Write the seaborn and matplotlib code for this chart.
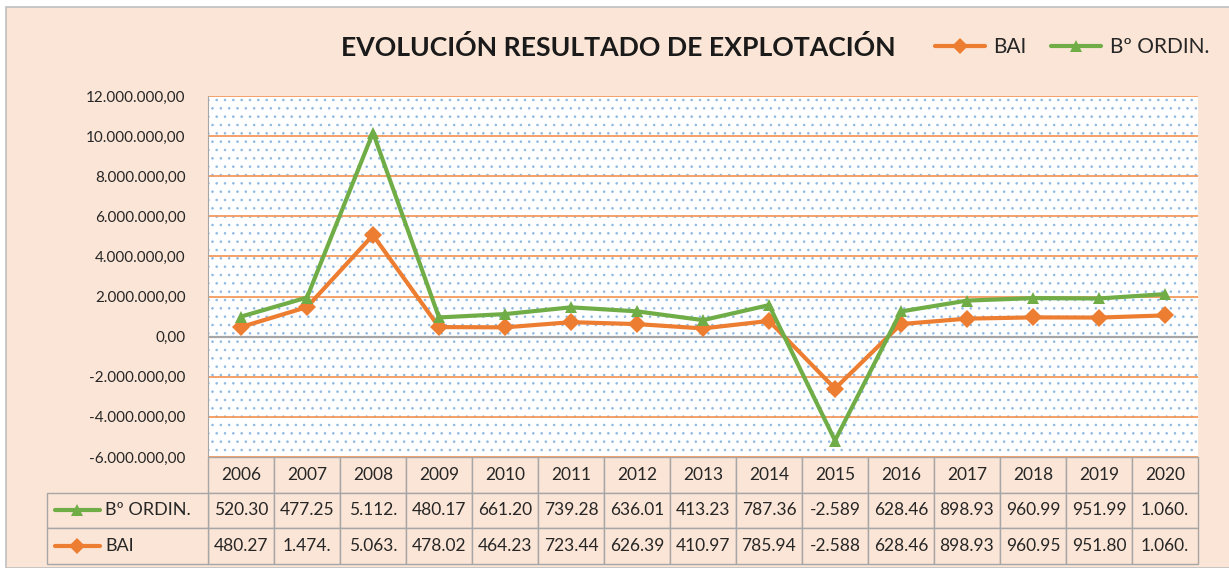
import matplotlib
matplotlib.use('Agg')
import matplotlib.pyplot as plt
from matplotlib.patches import Rectangle
from matplotlib.lines import Line2D
from matplotlib.ticker import FuncFormatter
import seaborn as sns
import pandas as pd

years = ['2006', '2007', '2008', '2009', '2010', '2011', '2012', '2013',
         '2014', '2015', '2016', '2017', '2018', '2019', '2020']
bai = [480270, 1474500, 5063200, 478020, 464230, 723440, 626390, 410970,
       785940, -2588300, 628460, 898930, 960950, 951800, 1060400]
bo_ordin = [520300, 477250, 5112400, 480170, 661200, 739280, 636010, 413230,
            787360, -2589100, 628460, 898930, 960990, 951990, 1060800]
y_ticks = [-6000000, -4000000, -2000000, 0, 2000000, 4000000, 6000000,
           8000000, 10000000, 12000000]

ORANGE = '#ED7D31'
GREEN = '#70AD47'
PEACH = '#FBE5D6'
GRID = '#F29A5C'
BORDER = '#A6A6A6'

sns.set_style('white')
plt.rcParams['font.family'] = ['Lato', 'DejaVu Sans']
plt.rcParams['hatch.linewidth'] = 0.6


def es_fmt(v, pos=None):
    s = f"{abs(int(round(v))):,}".replace(',', '.')
    return ('-' if v < 0 else '') + s + ',00'


def cell_fmt(v):
    # Excel shows the number cut to the cell width
    return f"{int(round(v)):,}".replace(',', '.')[:6]


# stacked line chart: second series sits on top of the first
stacked = [a + b for a, b in zip(bai, bo_ordin)]
df = pd.DataFrame({
    'pos': list(range(len(years))) * 2,
    'valor': bai + stacked,
    'serie': ['BAI'] * len(years) + ['Bº ORDIN.'] * len(years),
})

W, H = 1229, 568
fig = plt.figure(figsize=(W / 100, H / 100), dpi=100, facecolor='white')
fig.patches.append(Rectangle((6 / W, 0), 1, 1 - 7 / H, transform=fig.transFigure,
                             facecolor=PEACH, edgecolor='#BFBFBF', lw=1.2, zorder=-10))

ax_l, ax_r, ax_t, ax_b = 208, 1198, 96, 457
ax = fig.add_axes([ax_l / W, 1 - ax_b / H, (ax_r - ax_l) / W, (ax_b - ax_t) / H])
ax.set_facecolor('white')
ax.add_patch(Rectangle((0, 0), 1, 1, transform=ax.transAxes, facecolor='white',
                       edgecolor='#8DB8E2', hatch='..', lw=0, zorder=0))

sns.lineplot(data=df, x='pos', y='valor', hue='serie', style='serie',
             palette={'BAI': ORANGE, 'Bº ORDIN.': GREEN},
             markers={'BAI': 'D', 'Bº ORDIN.': '^'}, dashes=False,
             markersize=9, markeredgewidth=0, linewidth=3, ax=ax, zorder=5)
ax.get_legend().remove()

ax.set_xlim(-0.5, len(years) - 0.5)
ax.set_ylim(-6000000, 12000000)
ax.set_yticks(y_ticks)
ax.yaxis.set_major_formatter(FuncFormatter(es_fmt))
ax.set_xticks([])
ax.set_xlabel('')
ax.set_ylabel('')
ax.tick_params(axis='y', length=0, pad=16, labelsize=11, labelcolor='#262626')
for t in y_ticks:
    ax.axhline(t, color=BORDER if t == 0 else GRID, lw=1.6 if t == 0 else 1.3, zorder=1)
for side in ['top', 'right', 'bottom']:
    ax.spines[side].set_visible(False)
ax.spines['left'].set_color(BORDER)

# data table under the plot
aw, ah = ax_r - ax_l, ax_b - ax_t
row_h = 35.5 / ah
tbl = ax.table(cellText=[years, [cell_fmt(v) for v in bo_ordin], [cell_fmt(v) for v in bai]],
               cellLoc='center', bbox=[0, -3 * row_h, 1, 3 * row_h])
tbl.auto_set_font_size(False)
tbl.set_fontsize(12.5)
for cell in tbl.get_celld().values():
    cell.set_facecolor(PEACH)
    cell.set_edgecolor(BORDER)
    cell.get_text().set_color('#262626')

lab_w = (ax_l - 47) / aw
lab = ax.table(cellText=[[''], ['']], bbox=[-lab_w, -3 * row_h, lab_w, 2 * row_h])
for cell in lab.get_celld().values():
    cell.set_facecolor(PEACH)
    cell.set_edgecolor(BORDER)

for i, (name, col, mk) in enumerate([('Bº ORDIN.', GREEN, '^'), ('BAI', ORANGE, 'D')]):
    yc = -(1.5 + i) * row_h
    ax.add_line(Line2D([(55 - ax_l) / aw, (100 - ax_l) / aw], [yc, yc], color=col, lw=3,
                       transform=ax.transAxes, clip_on=False))
    ax.add_line(Line2D([(77.5 - ax_l) / aw], [yc], color=col, marker=mk, markersize=8,
                       markeredgewidth=0, transform=ax.transAxes, clip_on=False))
    ax.text((105 - ax_l) / aw, yc, name, transform=ax.transAxes, ha='left', va='center',
            fontsize=13, color='#262626')

fig.text(618 / W, 1 - 47 / H, 'EVOLUCIÓN RESULTADO DE EXPLOTACIÓN', ha='center',
         va='center', fontsize=19.2, fontweight='bold', color='#1a1a1a')

handles = [Line2D([], [], color=ORANGE, lw=3, marker='D', markersize=8, markeredgewidth=0),
           Line2D([], [], color=GREEN, lw=3, marker='^', markersize=9, markeredgewidth=0)]
fig.legend(handles, ['BAI', 'Bº ORDIN.'], loc='center', bbox_to_anchor=(1072 / W, 1 - 47 / H),
           ncol=2, frameon=False, fontsize=15, handlelength=2.4, columnspacing=1.2,
           handletextpad=0.4, labelcolor='#262626')

fig.savefig('out.png', dpi=100, facecolor=fig.get_facecolor())
